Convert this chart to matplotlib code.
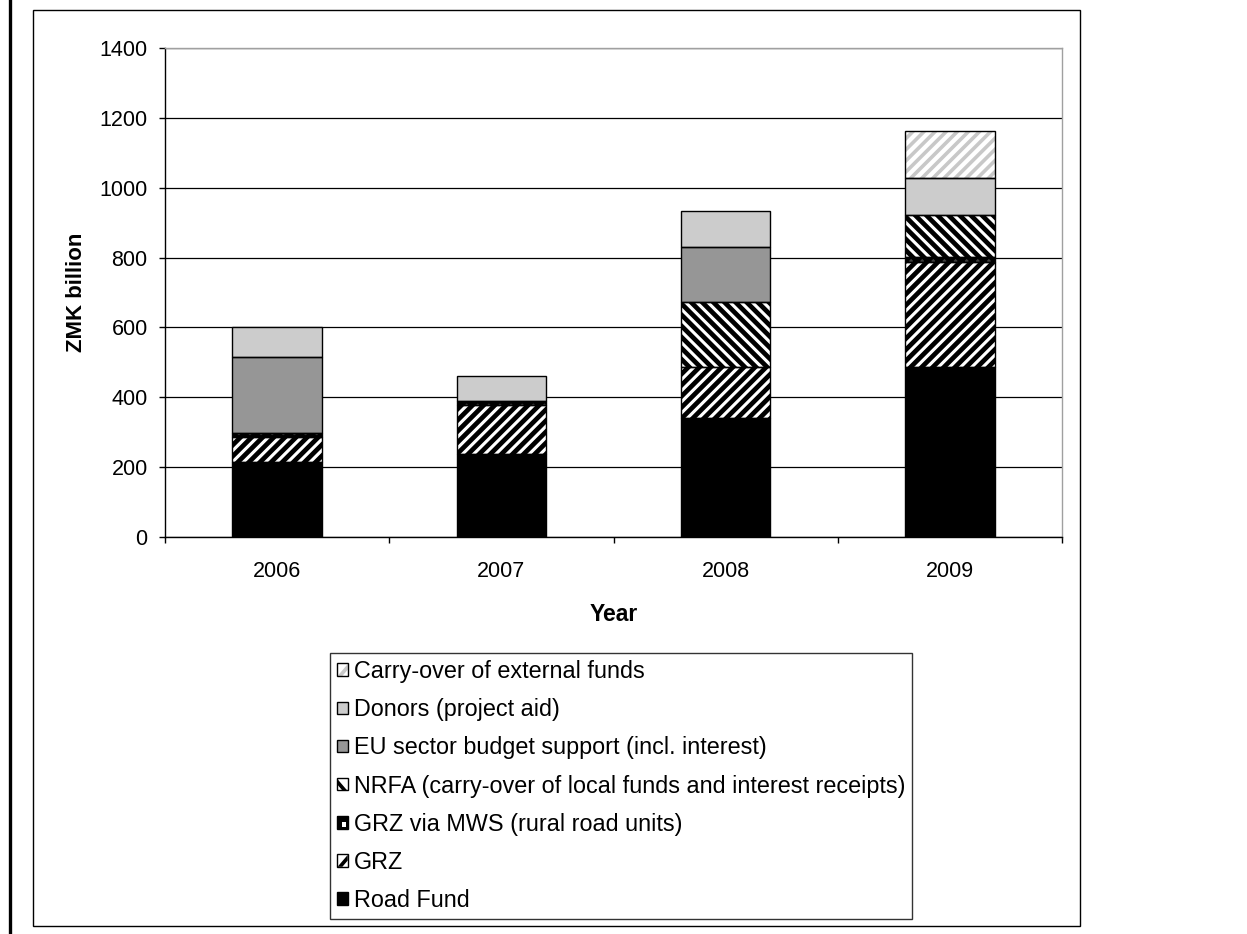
import matplotlib
matplotlib.use("Agg")
import matplotlib.pyplot as plt
import numpy as np
from matplotlib.patches import Patch, Rectangle, Polygon
from matplotlib.lines import Line2D
from matplotlib.legend_handler import HandlerBase

plt.rcParams["font.family"] = ["Liberation Sans", "DejaVu Sans"]
plt.rcParams["hatch.linewidth"] = 3.4

# Road sector funding by source, ZMK billion
years = ["2006", "2007", "2008", "2009"]
road_fund = [215, 239, 340, 488]
grz = [72, 139, 148, 300]
grz_mws = [10, 12, 0, 13]
nrfa = [0, 0, 186, 121]
eu_support = [219, 0, 157, 0]
donors = [86, 72, 102, 107]
carry_over_ext = [0, 0, 0, 133]

series = [
    ("Road Fund", road_fund, dict(facecolor="black", hatch=None, hatchcolor=None)),
    ("GRZ", grz, dict(facecolor="white", hatch="///", hatchcolor="black")),
    ("GRZ via MWS (rural road units)", grz_mws, dict(facecolor="#404040", hatch="xxx", hatchcolor="black")),
    ("NRFA (carry-over of local funds and interest receipts)", nrfa,
     dict(facecolor="white", hatch="\\\\\\", hatchcolor="black")),
    ("EU sector budget support (incl. interest)", eu_support, dict(facecolor="#969696", hatch=None, hatchcolor=None)),
    ("Donors (project aid)", donors, dict(facecolor="#cccccc", hatch=None, hatchcolor=None)),
    ("Carry-over of external funds", carry_over_ext, dict(facecolor="white", hatch="///", hatchcolor="#c8c8c8")),
]

W, H = 1247, 934
fig = plt.figure(figsize=(W / 100, H / 100), dpi=100)
fig.patch.set_facecolor("white")

# page margin line and chart frame
fig.add_artist(Line2D([10 / W, 10 / W], [0, 1], color="black", lw=2.4, transform=fig.transFigure))
fig.add_artist(Rectangle((33 / W, 1 - 926 / H), (1080 - 33) / W, (926 - 10) / H,
                         fill=False, edgecolor="black", lw=1.0, transform=fig.transFigure))

ax = fig.add_axes([165 / W, 1 - 537 / H, (1062 - 165) / W, (537 - 48) / H])
x = np.arange(len(years))
width = 0.4
bottom = np.zeros(len(years))

for name, vals, st in series:
    vals = np.asarray(vals, dtype=float)
    if st["hatch"]:
        bars = ax.bar(x, vals, width, bottom=bottom, color=st["facecolor"],
                      edgecolor=st["hatchcolor"], linewidth=0, hatch=st["hatch"], zorder=2)
        if st["hatchcolor"] != "black":
            for b in bars:
                if hasattr(b, "set_hatch_linewidth"):
                    b.set_hatch_linewidth(2.6)
    else:
        ax.bar(x, vals, width, bottom=bottom, color=st["facecolor"], linewidth=0, zorder=2)
    # outlines of each segment
    for xi, v, b0 in zip(x, vals, bottom):
        if v > 0:
            ax.add_patch(Rectangle((xi - width / 2, b0), width, v, fill=False,
                                   edgecolor="black", lw=1.0, zorder=3))
    bottom += vals

ax.set_xlim(-0.5, 3.5)
ax.set_ylim(0, 1400)
ax.set_yticks(np.arange(0, 1401, 200))
ax.set_xticks(x)
ax.set_xticklabels(years)
ax.set_xticks(np.arange(-0.5, 3.6, 1.0), minor=True)
ax.tick_params(axis="x", which="major", length=0, pad=17, labelsize=15.5)
ax.tick_params(axis="x", which="minor", length=4.5, width=1, direction="out", color="black")
ax.tick_params(axis="y", length=4.5, width=1, direction="out", pad=8, labelsize=15.5)

ax.yaxis.grid(True, color="black", lw=0.9)
ax.set_axisbelow(True)
for side in ("left", "bottom"):
    ax.spines[side].set_color("black")
    ax.spines[side].set_linewidth(1.0)
for side in ("top", "right"):
    ax.spines[side].set_color("#a0a0a0")
    ax.spines[side].set_linewidth(1.0)

ax.set_ylabel("ZMK billion", fontsize=16, fontweight="bold")
ax.yaxis.set_label_coords(-0.087, 0.5)
ax.set_xlabel("Year", fontsize=16.5, fontweight="bold")
ax.xaxis.set_label_coords(0.5, -0.134)


class CheckerHandler(HandlerBase):
    def create_artists(self, legend, orig_handle, xdescent, ydescent, width, height, fontsize, trans):
        x0, y0 = -xdescent, -ydescent
        w2, h2 = width / 2, height / 2
        return [
            Rectangle((x0, y0), width, height, facecolor="black", edgecolor="none", transform=trans),
            Rectangle((x0 + w2, y0 + h2 * 0.3), w2 * 0.75, h2 * 0.75, facecolor="white",
                      edgecolor="none", transform=trans),
            Rectangle((x0, y0), width, height, fill=False, edgecolor="black", lw=1.0, transform=trans),
        ]


class DiagonalHandler(HandlerBase):
    """Small square with a single diagonal stripe, like a swatch of the hatch."""

    def __init__(self, direction, color):
        super().__init__()
        self.direction = direction
        self.color = color

    def create_artists(self, legend, orig_handle, xdescent, ydescent, width, height, fontsize, trans):
        x0, y0 = -xdescent, -ydescent
        x1, y1 = x0 + width, y0 + height
        if self.direction == "/":
            tri = [(x0 + width * 0.05, y0), (x1, y1 - height * 0.05), (x1, y1 - height * 0.5),
                   (x0 + width * 0.5, y0)]
        else:
            tri = [(x0, y1 - height * 0.05), (x1 - width * 0.05, y0), (x0 + width * 0.5, y0),
                   (x0, y1 - height * 0.5)]
        return [
            Rectangle((x0, y0), width, height, facecolor="white", edgecolor="none", transform=trans),
            Polygon(tri, closed=True, facecolor=self.color, edgecolor="none", transform=trans),
            Rectangle((x0, y0), width, height, fill=False, edgecolor="black", lw=1.0, transform=trans),
        ]


handles, labels, hmap = [], [], {}
for name, vals, st in reversed(series):
    h = Patch(facecolor=st["facecolor"], edgecolor="black", lw=1.0)
    if name.startswith("GRZ via MWS"):
        hmap[h] = CheckerHandler()
    elif st["hatch"]:
        hmap[h] = DiagonalHandler(st["hatch"][0], st["hatchcolor"])
    handles.append(h)
    labels.append(name)

leg = fig.legend(handles, labels, loc="upper left", bbox_to_anchor=(330 / W, 1 - 653 / H),
                 bbox_transform=fig.transFigure, borderaxespad=0, fontsize=16.8,
                 handlelength=0.46, handleheight=0.45, handletextpad=0.25,
                 labelspacing=0.65, borderpad=0.3, fancybox=False, frameon=True,
                 handler_map=hmap)
leg.get_frame().set_edgecolor("black")
leg.get_frame().set_linewidth(1.0)

fig.savefig("out.png", dpi=100, facecolor="white")
